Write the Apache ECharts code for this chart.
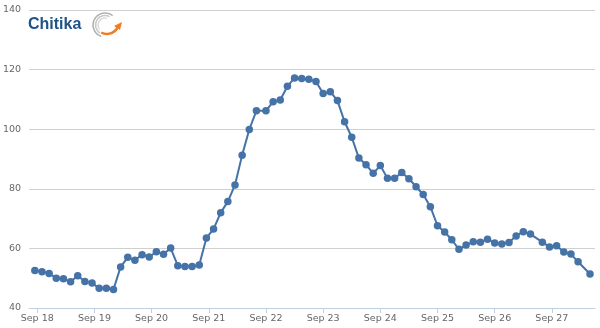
<!DOCTYPE html>
<html>
<head>
<meta charset="utf-8">
<script src="https://cdn.jsdelivr.net/npm/echarts@6/dist/echarts.min.js"></script>
<style>
html,body{margin:0;padding:0;background:#fff;}
#chart{width:600px;height:328px;}
</style>
</head>
<body>
<div id="chart"></div>
<script>
// Hours since Sep 18 00:00 for each sample
const hours = [-1,2,5,8,11,14,17,20,23,26,29,32,35,38,41,44,47,50,53,56,59,62,65,68,71,74,77,80,83,86,89,92,96,99,102,105,108,111,114,117,120,123,126,129,132,135,138,141,144,147,150,153,156,159,162,165,168,171,174,177,180,183,186,189,192,195,198,201,204,207,212,215,218,221,224,227,232];
const values = [52.6,52.2,51.6,50.0,49.8,48.8,50.8,48.9,48.4,46.6,
  46.6,46.2,53.8,57.0,56.0,57.9,57.1,58.9,58.0,60.1,
  54.2,53.9,53.9,54.4,63.5,66.5,72.0,75.7,81.3,91.3,
  99.9,106.2,106.2,109.2,109.8,114.4,117.2,117.0,116.8,116.0,
  112.0,112.6,109.6,102.5,97.3,90.3,88.1,85.2,87.8,83.5,
  83.5,85.5,83.4,80.7,78.1,74.0,67.6,65.5,62.9,59.7,
  61.1,62.2,62.1,63.1,61.8,61.5,62.0,64.2,65.6,64.8,
  62.1,60.5,60.9,58.8,58.1,55.5,51.4];
const tickHours = [0,24,48,72,96,120,144,168,192,216];
const tickLabels = ['Sep 18','Sep 19','Sep 20','Sep 21','Sep 22','Sep 23','Sep 24','Sep 25','Sep 26','Sep 27'];
const yTicks = [40,60,80,100,120,140];

const chart = echarts.init(document.getElementById('chart'), null, {renderer:'canvas'});
const fontFam = '"DejaVu Sans", Verdana, sans-serif';
const cx = 105, cy = 25;
chart.setOption({
  animation:false,
  backgroundColor:'#ffffff',
  grid:{left:28,right:5,top:10,bottom:20,containLabel:false},
  xAxis:{
    type:'value', min:-3.4, max:234.1,
    axisLine:{show:true,lineStyle:{color:'#C0D0E0',width:1}},
    axisTick:{show:true,customValues:tickHours,length:5,lineStyle:{color:'#C0D0E0'}},
    axisLabel:{customValues:tickHours,color:'#666',fontFamily:fontFam,fontSize:9.5,margin:6,
      formatter:function(v){const i=tickHours.indexOf(v);return i>=0?tickLabels[i]:'';}},
    splitLine:{show:false}
  },
  yAxis:{
    type:'value', min:yTicks[0], max:yTicks[yTicks.length-1], interval:20,
    axisLine:{show:false}, axisTick:{show:false},
    axisLabel:{color:'#666',fontFamily:fontFam,fontSize:9.5,margin:8},
    splitLine:{lineStyle:{color:'#D0D0D0',width:1}}
  },
  series:[{
    type:'line',
    data:hours.map((h,i)=>[h,values[i]]),
    symbol:'circle', symbolSize:7.5,
    lineStyle:{color:'#4572A7',width:2},
    itemStyle:{color:'#4572A7'},
    z:3
  }],
  graphic:[
    {type:'text',left:28,top:17,style:{text:'Chitika',fill:'#1f5486',font:'bold 16px "Liberation Sans", Arial, sans-serif'}},
    {type:'arc',shape:{cx:cx,cy:cy,r:12,startAngle:Math.PI*0.6,endAngle:Math.PI*1.72,clockwise:true},style:{stroke:'#b0b0b0',lineWidth:1.5,fill:null}},
    {type:'arc',shape:{cx:cx,cy:cy,r:9.5,startAngle:Math.PI*0.68,endAngle:Math.PI*1.66,clockwise:true},style:{stroke:'#c8c8c8',lineWidth:1.5,fill:null}},
    {type:'arc',shape:{cx:cx,cy:cy,r:7,startAngle:Math.PI*0.78,endAngle:Math.PI*1.6,clockwise:true},style:{stroke:'#dadada',lineWidth:1.5,fill:null}},
    {type:'arc',shape:{cx:cx+2,cy:cy-3,r:12,startAngle:Math.PI*0.1,endAngle:Math.PI*0.66,clockwise:true},style:{stroke:'#f07c22',lineWidth:2.5,fill:null}},
    {type:'polygon',shape:{points:[[cx+9,cy+1],[cx+17,cy-3],[cx+15,cy+5]]},style:{fill:'#f07c22'}}
  ]
});
</script>
</body>
</html>
